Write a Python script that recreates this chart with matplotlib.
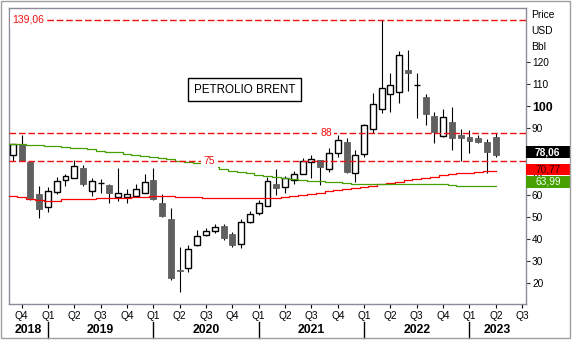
import numpy as np
import pandas as pd
import matplotlib
matplotlib.use("Agg")
import matplotlib.pyplot as plt
from matplotlib.patches import Rectangle
from matplotlib.transforms import blended_transform_factory

plt.rcParams["font.family"] = ["Liberation Sans", "DejaVu Sans"]

# monthly Brent candles, Sep 2018 .. Apr 2023
first_month = "2018-09"
opens = [77.9, 82.9, 74.9, 60.3, 54.3, 61.2, 66.5, 67.4, 71.9, 61.6, 65.2, 64.4,
         58.8, 59.1, 59.2, 60.8, 66.6, 56.1, 49.0, 26.0, 26.7, 37.3, 41.6, 43.4,
         45.8, 42.2, 37.5, 47.8, 51.5, 54.7, 64.8, 63.3, 66.5, 69.2, 74.6, 75.7,
         71.5, 78.7, 83.7, 69.6, 78.2, 89.5, 98.7, 105.4, 106.3, 116.4, 109.7, 104.0,
         95.6, 86.5, 92.7, 87.0, 85.9, 85.6, 83.6, 86.2]
highs = [83.0, 87.0, 75.3, 63.9, 63.3, 68.1, 69.3, 75.7, 73.4, 67.4, 67.3, 64.6,
         71.9, 62.5, 64.7, 69.3, 71.9, 60.3, 53.8, 36.3, 37.2, 44.0, 44.7, 46.6,
         46.6, 42.9, 49.1, 52.6, 57.6, 68.1, 71.4, 68.6, 70.5, 76.4, 77.9, 75.7,
         81.0, 87.0, 85.5, 80.2, 91.8, 105.9, 139.06, 114.9, 125.1, 125.4, 114.9, 105.5,
         97.5, 98.6, 99.8, 89.5, 89.2, 87.0, 85.0, 87.7]
lows = [75.3, 75.0, 57.6, 49.6, 52.3, 60.3, 64.0, 67.4, 63.9, 59.4, 60.9, 56.1,
        57.1, 56.1, 59.0, 60.6, 57.6, 49.9, 21.4, 15.8, 25.1, 36.9, 41.1, 42.8,
        39.5, 36.4, 35.7, 47.3, 50.6, 54.7, 59.8, 60.9, 64.8, 69.2, 67.4, 64.5,
        70.4, 77.2, 69.6, 65.5, 77.2, 87.7, 96.9, 97.6, 101.3, 107.0, 94.5, 91.5,
        83.5, 86.0, 80.2, 75.2, 78.7, 83.2, 69.9, 77.1]
closes = [82.9, 75.2, 58.6, 53.7, 61.8, 66.0, 68.4, 72.9, 64.7, 66.3, 65.2, 60.6,
          60.6, 60.3, 62.4, 65.9, 58.2, 50.3, 22.4, 25.5, 35.2, 41.1, 43.4, 45.2,
          40.5, 37.3, 47.5, 51.4, 56.0, 66.0, 63.2, 67.4, 69.2, 75.1, 76.1, 72.6,
          78.7, 84.7, 70.4, 77.8, 91.4, 100.9, 108.1, 109.4, 123.0, 114.9, 109.7, 96.4,
          88.2, 95.0, 85.5, 85.7, 84.4, 83.9, 79.4, 78.06]

# moving averages, one value per month starting Aug 2018
ma_red = [59.5, 59.4, 59.0, 58.0, 57.5, 57.1, 57.2, 57.8, 57.9, 58.0, 58.2, 58.3,
          58.3, 58.6, 58.6, 58.8, 59.0, 59.2, 59.2, 59.2, 58.9, 58.9, 58.8, 58.4,
          58.3, 58.3, 58.3, 58.3, 58.3, 58.4, 58.5, 58.7, 58.9, 59.4, 59.9, 60.4,
          60.9, 61.5, 62.0, 62.6, 63.2, 63.6, 64.1, 64.6, 65.2, 65.9, 66.6, 67.2,
          67.7, 68.2, 68.7, 69.2, 69.6, 70.0, 70.3, 70.6, 70.77]
ma_green = [82.8, 82.8, 82.7, 82.4, 82.3, 82.2, 81.9, 81.6, 81.3, 81.0, 80.5, 79.9,
            79.5, 79.1, 78.6, 78.1, 77.6, 77.0, 76.6, 76.0, 75.2, 74.6, 74.2, 73.2,
            72.3, 71.4, 70.8, 70.2, 69.6, 68.9, 68.4, 67.9, 67.4, 67.0, 66.5, 66.2,
            66.0, 65.8, 65.5, 65.2, 64.9, 64.7, 64.7, 64.7, 64.8, 64.9, 64.9, 64.9,
            64.9, 64.7, 64.6, 64.3, 64.0, 64.0, 64.0, 64.0, 63.99]

levels = [139.06, 88, 75]
level_labels = ["139,06", "88", "75"]
price_ticks = [20, 30, 40, 50, 60, 70, 80, 90, 100, 110, 120]

RED = "#f01010"
GREEN = "#46a000"
DOWN = "#606060"


def fmt(v):
    return f"{v:.2f}".replace(".", ",")


months = pd.date_range(first_month, periods=len(opens), freq="MS")
x = np.arange(len(opens))
o = np.array(opens)
c = np.array(closes)
up = c >= o

fig = plt.figure(figsize=(5.73, 3.42), dpi=100)
ax = fig.add_axes([8.5 / 573, 38 / 342, 517.2 / 573, 296.5 / 342])

# candles
ax.vlines(x, lows, highs, color="black", lw=0.8, zorder=2)
ax.bar(x[up], (c - o)[up], bottom=o[up], width=0.68, facecolor="white",
       edgecolor="black", lw=1.0, zorder=3)
ax.bar(x[~up], (c - o)[~up], bottom=o[~up], width=0.68, facecolor=DOWN,
       edgecolor=DOWN, lw=0.6, zorder=3)

# moving averages
ma_x = np.arange(-1, len(ma_red) - 1)
ax.plot(ma_x, ma_red, color="#ff0000", lw=0.9, drawstyle="steps-mid", zorder=4)
ax.plot(ma_x, ma_green, color=GREEN, lw=0.9, drawstyle="steps-mid", zorder=4)

# horizontal levels
for lv in levels:
    ax.axhline(lv, color=RED, lw=1.0, ls=(0, (4.8, 2.0)), zorder=4)
lbl_x = [0.007, 35.65, 22.4]
for lv, txt, lx in zip(levels, level_labels, lbl_x):
    tr = ax.get_yaxis_transform() if lx < 1 else ax.transData
    ax.text(lx, lv, txt, transform=tr, color=RED, fontsize=7.5,
            ha="left" if lx < 1 else "center", va="center", zorder=5,
            bbox=dict(boxstyle="square,pad=0.25", fc="white", ec="none"))

ax.text(0.457, 0.723, "PETROLIO BRENT", transform=ax.transAxes, fontsize=8.4,
        ha="center", va="center", zorder=6,
        bbox=dict(boxstyle="square,pad=0.5", fc="white", ec="black", lw=1.0))

ax.set_xlim(-0.49, 58.4)
ax.set_ylim(10.5, 144.7)

for sp in ax.spines.values():
    sp.set_color("#8c8c98")
    sp.set_linewidth(1.0)

# price axis on the right
ax.yaxis.tick_right()
ax.set_yticks(price_ticks, [str(t) for t in price_ticks])
ax.tick_params(axis="y", direction="out", length=3, width=0.8, color="#303040",
               labelsize=7.3, pad=1.5)
for lab in ax.get_yticklabels():
    if lab.get_text() == "100":
        lab.set_fontweight("bold")
        lab.set_fontsize(8.9)

# quarter ticks and year bands
qpos = [i for i in range(1, 59, 3)]
qdates = pd.date_range(first_month, periods=60, freq="MS")
qlabels = [f"Q{(qdates[i].month - 1) // 3 + 1}" for i in qpos]
ax.set_xticks(qpos, qlabels)
ax.tick_params(axis="x", direction="out", length=3, width=0.8, color="black",
               labelsize=7.3, pad=2)

xt = ax.get_xaxis_transform()
jan = [i for i in range(60) if qdates[i].month == 1]
edges = [ax.get_xlim()[0]] + jan + [ax.get_xlim()[1]]
years = [qdates[0].year] + [qdates[i].year for i in jan]
for i, yr in enumerate(years):
    ax.text((edges[i] + edges[i + 1]) / 2, -0.0877, str(yr), transform=xt,
            ha="center", va="center", fontsize=8.8, fontweight="bold")
for j in jan:
    ax.plot([j, j], [-0.06, -0.115], transform=xt, color="black", lw=1.0,
            clip_on=False)

# last-value boxes
bt = blended_transform_factory(ax.transAxes, ax.transData)
box_vals = [closes[-1], ma_red[-1], ma_green[-1]]
box_off = [1.2, 0.7, 1.85]
box_fc = ["black", "#ff0000", GREEN]
box_tc = ["white", "#3a0000", "#f0fff0"]
box_w = 1.0857 - 1.0
for v, off, fc, tc in zip(box_vals, box_off, box_fc, box_tc):
    yc = v + off
    ax.add_patch(Rectangle((1.0, yc - 2.62), box_w, 5.24, transform=bt,
                           facecolor=fc, edgecolor="none", clip_on=False, zorder=10))
    ax.text(1.0 + box_w / 2, yc, fmt(v), transform=bt, color=tc, fontsize=7.3,
            fontweight="bold" if fc == "black" else "normal",
            ha="center", va="center", clip_on=False, zorder=11)

for i, t in enumerate(["Price", "USD", "Bbl"]):
    fig.text(531 / 573, 1 - (15 + 16 * i) / 342, t, fontsize=7.4,
             ha="left", va="center")

fig.add_artist(Rectangle((1 / 573, 4 / 342), 569 / 573, 337 / 342,
                         transform=fig.transFigure, fill=False,
                         edgecolor="#a0a0a0", lw=1.0))

fig.savefig("out.png", dpi=100)
